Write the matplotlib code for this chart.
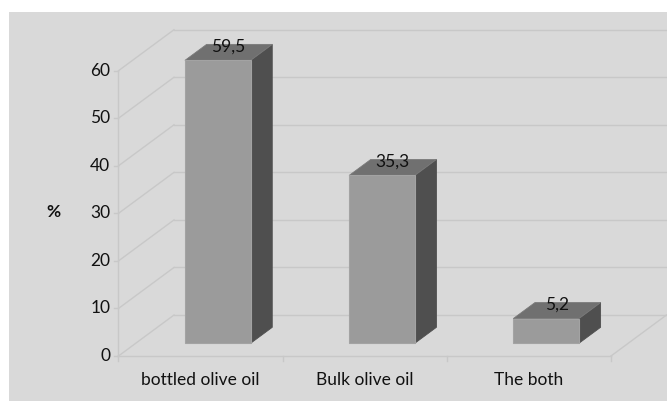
import matplotlib.pyplot as plt
from matplotlib.patches import Polygon, Rectangle

plt.rcParams['font.family'] = ['Lato', 'DejaVu Sans']

categories = ['bottled olive oil', 'Bulk olive oil', 'The both']
values = [59.5, 35.3, 5.2]
yticks = [0, 10, 20, 30, 40, 50, 60]

# oblique offset of the back wall, in data units
DX, DY = 0.338, 8.62
# bars sit between these fractions of the floor depth
F0, F1 = 0.31, 0.70
BW = 0.40
FS = 12.5

grid_c = '#c8c8c8'
text_c = '#111111'
front_c, side_c, top_c = '#9b9b9b', '#4f4f4f', '#707070'

fig = plt.figure(figsize=(6.67, 4.01), dpi=100)
fig.patch.set_facecolor('white')
fig.patches.append(Rectangle((9 / 667, 0), 1, 389 / 401, transform=fig.transFigure,
                             facecolor='#d9d9d9', edgecolor='none', zorder=-10))

ax = fig.add_axes([118.5 / 667, 45 / 401, 492.5 / 667, 285.3 / 401])
ax.set_xlim(-0.5, 2.5)
ax.set_ylim(0, 60)
ax.axis('off')

x0, x1 = -0.5, len(categories) - 0.5

# back wall gridlines and left wall diagonals
for v in yticks:
    ax.plot([x0 + DX, x1 + DX], [v + DY, v + DY], color=grid_c, lw=1, clip_on=False, zorder=1)
    ax.plot([x0, x0 + DX], [v, v + DY], color=grid_c, lw=1, clip_on=False, zorder=1)
    ax.plot([x0 - 0.025, x0], [v, v], color=grid_c, lw=1, clip_on=False, zorder=1)
    ax.text(x0 - 0.05, v, str(v), ha='right', va='center', fontsize=FS, color=text_c)

# floor edges, axis line and category ticks
ax.plot([x0, x0], [0, 60], color=grid_c, lw=1, clip_on=False, zorder=1)
ax.plot([x0, x1], [0, 0], color=grid_c, lw=1, clip_on=False, zorder=1)
ax.plot([x1, x1 + DX], [0, DY], color=grid_c, lw=1, clip_on=False, zorder=1)
for i in range(len(categories) + 1):
    ax.plot([x0 + i, x0 + i], [0, -1.1], color=grid_c, lw=1, clip_on=False, zorder=1)

for i, (name, v) in enumerate(zip(categories, values)):
    ax.text(i, -5.1, name, ha='center', va='center', fontsize=FS, color=text_c)

    l = i - BW / 2 + F0 * DX
    r = i + BW / 2 + F0 * DX
    b = F0 * DY
    ddx, ddy = (F1 - F0) * DX, (F1 - F0) * DY
    # side, top and front faces
    ax.add_patch(Polygon([(r, b), (r + ddx, b + ddy), (r + ddx, b + ddy + v), (r, b + v)],
                         closed=True, facecolor=side_c, edgecolor=side_c, lw=0.6,
                         clip_on=False, zorder=3))
    ax.add_patch(Polygon([(l, b + v), (r, b + v), (r + ddx, b + ddy + v), (l + ddx, b + ddy + v)],
                         closed=True, facecolor=top_c, edgecolor='#7a7a7a', lw=0.6,
                         clip_on=False, zorder=3))
    ax.add_patch(Rectangle((l, b), r - l, v, facecolor=front_c, edgecolor='#a3a3a3',
                           lw=0.8, clip_on=False, zorder=4))
    ax.annotate(f'{v:.1f}'.replace('.', ','), (l + ddx / 2 + (r - l) / 2, b + v + ddy / 2),
                xytext=(0, 4), textcoords='offset points', ha='center', va='center',
                fontsize=FS, color=text_c, zorder=5, annotation_clip=False)

ax.text(x0 - 0.395, 30 + 0.3, '%', ha='center', va='center', fontsize=FS,
        fontweight='bold', color=text_c)

fig.savefig('out.png', dpi=100)
